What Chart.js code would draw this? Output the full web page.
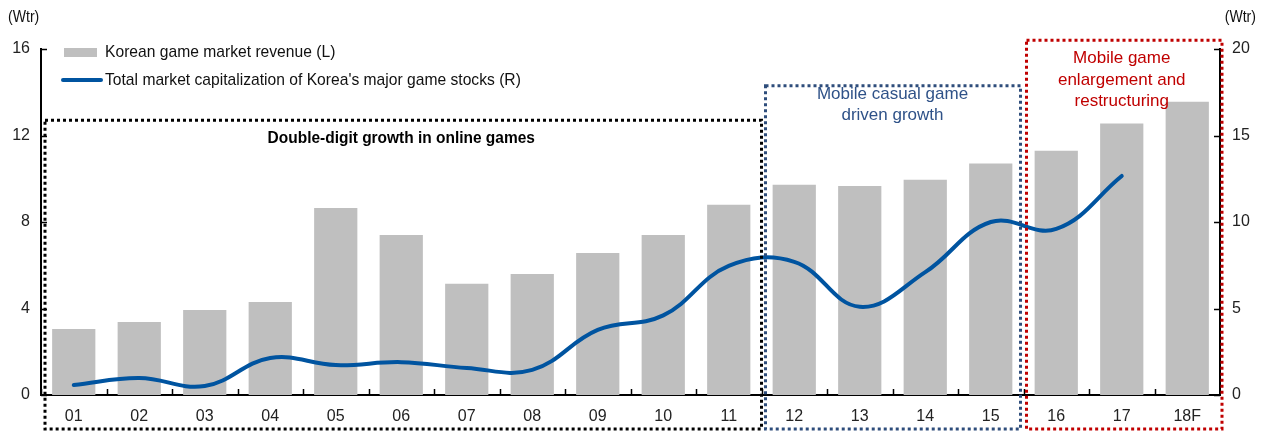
<!DOCTYPE html>
<html>
<head>
<meta charset="utf-8">
<script src="https://cdn.jsdelivr.net/npm/chart.js@4/dist/chart.umd.min.js"></script>
<style>
  html, body { margin: 0; padding: 0; background: #fff; }
  #wrap { width: 1263px; height: 432px; position: relative; }
</style>
</head>
<body>
<div id="wrap"><canvas id="mychart"></canvas></div>
<script>
// データ
const years = ['01', '02', '03', '04', '05', '06', '07', '08', '09', '10', '11', '12', '13', '14', '15', '16', '17', '18F'];
const revenue = [3.05, 3.38, 3.93, 4.3, 8.65, 7.4, 5.14, 5.6, 6.57, 7.4, 8.8, 9.72, 9.67, 9.95, 10.7, 11.3, 12.55, 13.56];
const marketCap = [0.58, 0.98, 0.52, 2.14, 1.73, 1.9, 1.56, 1.45, 3.76, 4.6, 7.46, 7.7, 5.1, 7.1, 10.0, 9.6, 12.66, null];
const leftTicks = [0, 4, 8, 12, 16];
const rightTicks = [0, 5, 10, 15, 20];

// 区間ボックス (カテゴリ index と左軸の値で指定)
const phases = [
  { from: -0.5, to: 10.5, top: 12.7, color: '#000000', textColor: '#000000', bold: true, squeeze: 0.91,
    lines: ['Double-digit growth in online games'], textAt: 5, textY: [11.85] },
  { from: 10.5, to: 14.5, top: 14.3, color: '#2E4D7B', textColor: '#2F5288', bold: false, squeeze: 1,
    lines: ['Mobile casual game', 'driven growth'], textAt: 12.5, textY: [13.9, 12.95] },
  { from: 14.5, to: 17.5, top: 16.4, color: '#C00000', textColor: '#C00000', bold: false, squeeze: 1,
    lines: ['Mobile game', 'enlargement and', 'restructuring'], textAt: 16, textY: [15.55, 14.55, 13.6] },
];

const FONT = '"Liberation Sans Narrow", "Arial Narrow", "Liberation Sans", sans-serif';
const BAR_COLOR = '#BFBFBF';
const LINE_COLOR = '#0054A0';

// 横方向に詰めて文字を描く
function narrowText(ctx, s, x, y, k) {
  ctx.save();
  ctx.translate(x, y);
  ctx.scale(k, 1);
  ctx.fillText(s, 0, 0);
  ctx.restore();
}

// 内向きの目盛り・ボックス・凡例・単位を描く
const decor = {
  id: 'decor',
  afterDatasetsDraw(chart) {
    const { ctx, chartArea: a, scales } = chart;
    const x = scales.x, yl = scales.yL, yr = scales.yR;
    ctx.save();

    // 目盛り
    ctx.strokeStyle = '#000';
    ctx.lineWidth = 1.5;
    ctx.beginPath();
    leftTicks.forEach(v => { const p = Math.round(yl.getPixelForValue(v)) + 0.5; ctx.moveTo(a.left, p); ctx.lineTo(a.left + 6, p); });
    rightTicks.forEach(v => { const p = Math.round(yr.getPixelForValue(v)) + 0.5; ctx.moveTo(a.right, p); ctx.lineTo(a.right - 6, p); });
    for (let i = 0; i < years.length; i++) {
      const p = Math.round(x.getPixelForValue(i - 0.5)) + 0.5;
      ctx.moveTo(p, a.bottom); ctx.lineTo(p, a.bottom - 6);
    }
    ctx.stroke();

    // 区間ボックス
    phases.forEach((ph, k) => {
      let l = x.getPixelForValue(ph.from), r = x.getPixelForValue(ph.to);
      if (k === 0) { l += 4; }
      if (k === 1) { l += 4; r -= 3; }
      if (k === 2) { l += 3; r += 2; }
      const t = yl.getPixelForValue(ph.top);
      const b = chart.height - 3;
      ctx.strokeStyle = ph.color;
      ctx.lineWidth = 3;
      ctx.setLineDash([3, 3]);
      ctx.strokeRect(l, t, r - l, b - t);
      ctx.setLineDash([]);

      ctx.fillStyle = ph.textColor;
      ctx.font = (ph.bold ? 'bold ' : '') + '17px ' + FONT;
      ctx.textAlign = 'center';
      ctx.textBaseline = 'middle';
      ph.lines.forEach((s, j) => narrowText(ctx, s, x.getPixelForValue(ph.textAt), yl.getPixelForValue(ph.textY[j]), ph.squeeze));
    });

    // 凡例
    ctx.font = '17px ' + FONT;
    ctx.textAlign = 'left';
    ctx.textBaseline = 'middle';
    ctx.fillStyle = BAR_COLOR;
    ctx.fillRect(a.left + 23, a.top - 1, 33, 9);
    ctx.fillStyle = '#111';
    narrowText(ctx, chart.data.datasets[1].label, a.left + 64, a.top + 3, 0.92);
    ctx.strokeStyle = LINE_COLOR;
    ctx.lineWidth = 4;
    ctx.lineCap = 'round';
    ctx.beginPath();
    ctx.moveTo(a.left + 22, a.top + 31); ctx.lineTo(a.left + 60, a.top + 31);
    ctx.stroke();
    narrowText(ctx, chart.data.datasets[0].label, a.left + 64, a.top + 31, 0.92);

    // 単位
    ctx.font = '16px ' + FONT;
    ctx.fillStyle = '#111';
    narrowText(ctx, '(Wtr)', 8, 18, 0.88);
    ctx.textAlign = 'right';
    narrowText(ctx, '(Wtr)', chart.width - 7, 18, 0.88);
    ctx.restore();
  }
};

let ctx = document.getElementById('mychart');
let myChart = new Chart(ctx, {
  data: {
    labels: years,
    datasets: [{
      type: 'line',
      label: "Total market capitalization of Korea's major game stocks (R)",
      data: marketCap,
      yAxisID: 'yR',
      borderColor: LINE_COLOR,
      borderWidth: 4,
      tension: 0.4,
      pointRadius: 0,
      borderCapStyle: 'round',
      order: 0,
    }, {
      type: 'bar',
      label: 'Korean game market revenue (L)',
      data: revenue,
      yAxisID: 'yL',
      backgroundColor: BAR_COLOR,
      barPercentage: 0.66,
      categoryPercentage: 1,
      order: 1,
    }],
  },
  options: {
    responsive: true,
    maintainAspectRatio: false,
    animation: false,
    layout: { padding: { top: 49, left: 0, right: 0, bottom: 0 } },
    plugins: { legend: { display: false }, tooltip: { enabled: false } },
    scales: {
      x: {
        grid: { display: false, drawTicks: false },
        border: { color: '#000', width: 2 },
        ticks: { color: '#222', padding: 12, font: { family: FONT, size: 16 } },
        afterFit: s => { s.height = 37; },
      },
      yL: {
        position: 'left',
        min: 0, max: 16,
        afterBuildTicks: s => { s.ticks = leftTicks.map(v => ({ value: v })); },
        grid: { display: false, drawTicks: false },
        border: { color: '#000', width: 2 },
        ticks: { color: '#222', padding: 11, font: { family: FONT, size: 16 } },
        afterFit: s => { s.width = 41; },
      },
      yR: {
        position: 'right',
        min: 0, max: 20,
        afterBuildTicks: s => { s.ticks = rightTicks.map(v => ({ value: v })); },
        grid: { display: false, drawTicks: false },
        border: { color: '#000', width: 2 },
        ticks: { color: '#222', padding: 12, font: { family: FONT, size: 16 } },
        afterFit: s => { s.width = 43; },
      },
    },
  },
  plugins: [decor],
});
</script>
</body>
</html>
